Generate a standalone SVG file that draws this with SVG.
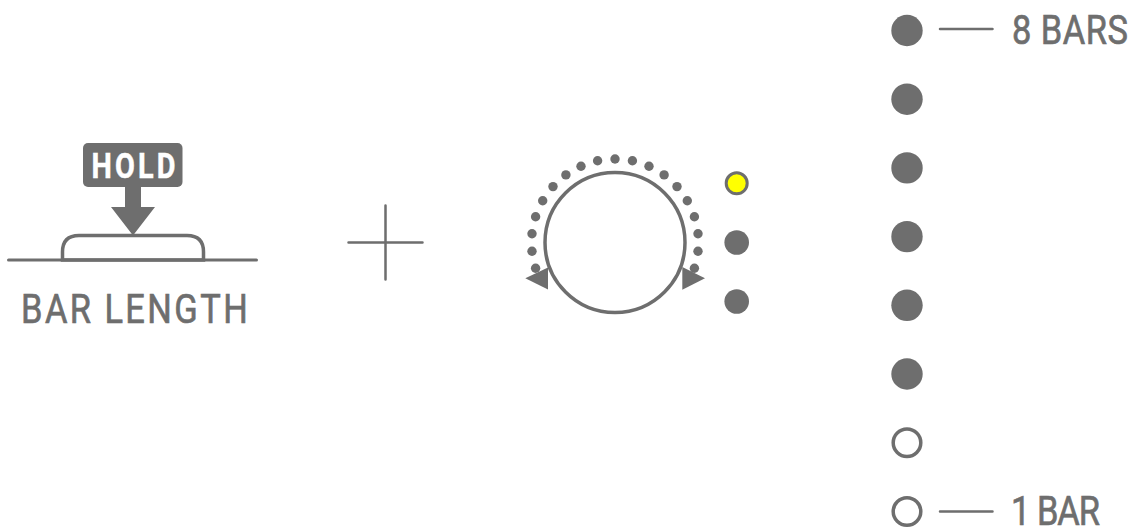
<svg xmlns="http://www.w3.org/2000/svg" width="1131" height="528" viewBox="0 0 1131 528">
<style>
.f{fill:#6e6e6e}
.s{fill:none;stroke:#6e6e6e;stroke-linecap:round}
.t{fill:#6e6e6e;stroke:#6e6e6e;stroke-width:.7;font-family:"Roboto","Liberation Sans",sans-serif;font-size:41px}
.on{fill:#6e6e6e}
.off{fill:#fff;stroke:#6e6e6e;stroke-width:3.500}
</style>
<rect width="1131" height="528" fill="#fff"/>
<g id="button">
<path class="s" stroke-width="3" d="M8.500 260H256.500"/>
<path class="s" stroke-width="3.500" d="M62.500 260V252Q62.500 235.500 79 235.500H187Q203.500 235.500 203.500 252V260Z"/>
<rect class="f" x="83" y="143" width="99.500" height="44" rx="5"/>
<path class="f" d="M125 186H141V207H155L133 235.500L111 207H125Z"/>
<text transform="translate(91.500 178) scale(.8 1)" textLength="105" lengthAdjust="spacing" style="font-family:Roboto,'Liberation Sans',sans-serif;font-weight:700;font-size:36px;fill:#fff;stroke:#fff;stroke-width:.5">HOLD</text>
<text class="t" transform="translate(21 323) scale(.84 1)" textLength="270" lengthAdjust="spacing">BAR LENGTH</text>
</g>
<g id="plus">
<path class="s" stroke-width="2.500" d="M348.500 242.500H422.500M385.500 205.500V279.500"/>
</g>
<g id="knob">
<g class="f">
<circle cx="615" cy="159" r="4.700"/>
<circle cx="632.400" cy="160.800" r="4.700"/><circle cx="597.600" cy="160.800" r="4.700"/>
<circle cx="649" cy="166.200" r="4.700"/><circle cx="581" cy="166.200" r="4.700"/>
<circle cx="664.100" cy="174.900" r="4.700"/><circle cx="565.900" cy="174.900" r="4.700"/>
<circle cx="677" cy="186.600" r="4.700"/><circle cx="553" cy="186.600" r="4.700"/>
<circle cx="687.300" cy="200.700" r="4.700"/><circle cx="542.700" cy="200.700" r="4.700"/>
<circle cx="694.400" cy="216.700" r="4.700"/><circle cx="535.600" cy="216.700" r="4.700"/>
<circle cx="698" cy="233.800" r="4.700"/><circle cx="532" cy="233.800" r="4.700"/>
<circle cx="698" cy="251.200" r="4.700"/><circle cx="532" cy="251.200" r="4.700"/>
<circle cx="694.400" cy="268.300" r="4.700"/><circle cx="535.600" cy="268.300" r="4.700"/>
</g>
<circle cx="615" cy="242.500" r="70" fill="#fff" stroke="#6e6e6e" stroke-width="3.500"/>
<path class="f" d="M525.300 278.300L548 267.500V289.500Z"/>
<path class="f" d="M705 278.300L682.300 267V289.700Z"/>
</g>
<g id="leds">
<circle cx="736.700" cy="183.300" r="10.500" fill="#ffff00" stroke="#6e6e6e" stroke-width="3"/>
<circle class="on" cx="736.700" cy="242.500" r="12.300"/>
<circle class="on" cx="736.700" cy="301.500" r="12.300"/>
</g>
<g id="level-8"><circle class="on" cx="907" cy="30.500" r="15.700"/></g>
<g id="level-7"><circle class="on" cx="907" cy="99.200" r="15.700"/></g>
<g id="level-6"><circle class="on" cx="907" cy="167.900" r="15.700"/></g>
<g id="level-5"><circle class="on" cx="907" cy="236.600" r="15.700"/></g>
<g id="level-4"><circle class="on" cx="907" cy="305.300" r="15.700"/></g>
<g id="level-3"><circle class="on" cx="907" cy="374" r="15.700"/></g>
<g id="level-2"><circle class="off" cx="907" cy="442.700" r="13.800"/></g>
<g id="level-1"><circle class="off" cx="907" cy="511.500" r="13.800"/></g>
<g id="connectors">
<path class="s" stroke-width="2.500" d="M940 29H992.500M940 511.500H992.500"/>
</g>
<g id="labels">
<text class="t" transform="translate(1012 44) scale(.84 1)" textLength="138" lengthAdjust="spacing">8 BARS</text>
<text class="t" transform="translate(1011 525) scale(.84 1)" textLength="106" lengthAdjust="spacing">1 BAR</text>
</g>
</svg>
